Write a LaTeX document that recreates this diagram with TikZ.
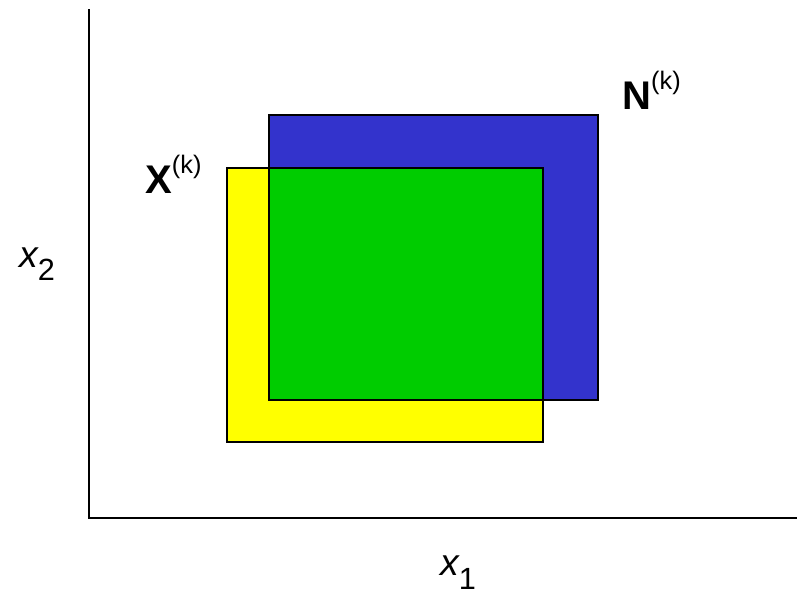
\documentclass[tikz,border=0pt]{standalone}
\usepackage{fontspec}
\setmainfont{Liberation Sans}
\definecolor{yel}{RGB}{255,255,0}
\definecolor{blu}{RGB}{51,51,204}
\definecolor{grn}{RGB}{0,204,0}
\begin{document}
\begin{tikzpicture}[x=0.75pt,y=-0.75pt,
  box/.style={draw=black,line width=1.9pt},
  axis/.style={draw=black,line width=1.6pt},
  biglabel/.style={inner sep=0pt,anchor=base west,font=\fontsize{30}{30}\selectfont\bfseries},
  varlabel/.style={inner sep=0pt,anchor=base west,font=\fontsize{28}{28}\selectfont\itshape}]
\useasboundingbox (0,0) rectangle (797,590);
% fills
\fill[yel] (227,168) rectangle (543,442);
\fill[blu] (269,115) rectangle (598,400);
\fill[grn] (269,168) rectangle (543,400);
% outlines
\draw[box] (227,168) rectangle (543,442);
\draw[box] (269,115) rectangle (598,400);
% axes
\coordinate (top) at (89,9);
\coordinate (origin) at (89,518);
\coordinate (right) at (797,518);
\draw[axis] (top) -- (origin) -- (right);
% labels
\node[biglabel] (xk) at (145,193) {X\raisebox{15pt}{\fontsize{19}{19}\selectfont\mdseries (k)}};
\node[biglabel] (nk) at (622,109) {N\raisebox{15pt}{\fontsize{19}{19}\selectfont\mdseries (k)}};
\node[varlabel] (x2) at (19,267) {x\raisebox{-10pt}{\fontsize{23}{23}\selectfont\upshape 2}};
\node[varlabel] (x1) at (440,575) {x\raisebox{-11pt}{\fontsize{23}{23}\selectfont\upshape 1}};
\end{tikzpicture}
\end{document}
